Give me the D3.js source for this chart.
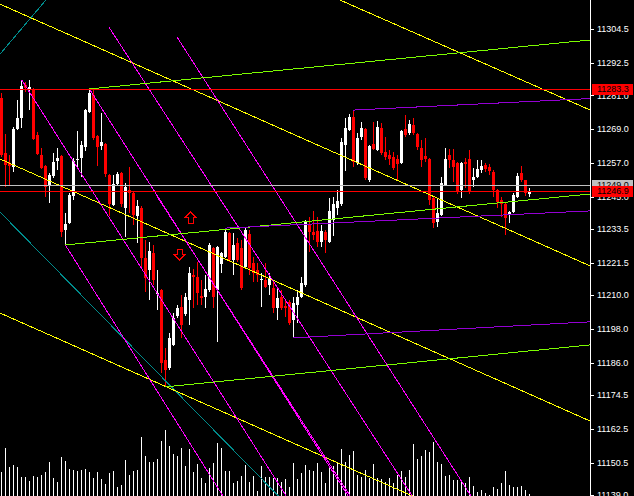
<!DOCTYPE html>
<html>
<head>
<meta charset="utf-8">
<style>
  html, body { margin: 0; padding: 0; background: #000; }
  svg { display: block; }
  .price-axis text { font-family: "Liberation Sans", Arial, sans-serif; font-size: 9px; fill: #fff; }
  .price-axis line { stroke: #fff; }
  .level-label { font-family: "Liberation Sans", Arial, sans-serif; font-size: 9px; fill: #000; }
</style>
</head>
<body>
<div id="chart"></div>
<script src="https://d3js.org/d3.v7.min.js"></script>
<script>
  // OHLC per bar (bar 0 = leftmost)
  const opens = [
    11280.0, 11260.5, 11256.9, 11255.5, 11269.0, 11272.9, 11284.6, 11282.8, 11282.8, 11266.9,
    11259.8, 11255.9, 11249.1, 11252.3, 11257.6, 11259.4, 11233.1, 11235.6, 11245.2, 11258.0,
    11258.7, 11262.6, 11275.0, 11281.1, 11266.5, 11262.9, 11263.7, 11252.7, 11242.0, 11249.5,
    11253.4, 11241.0, 11247.3, 11246.3, 11238.1, 11240.9, 11223.2, 11218.9, 11225.0, 11210.4,
    11211.8, 11187.0, 11184.1, 11192.3, 11202.6, 11205.8, 11203.3, 11208.3, 11217.2, 11216.4,
    11209.7, 11209.3, 11211.8, 11226.7, 11211.8, 11221.0, 11223.5, 11232.1, 11222.5, 11228.5,
    11226.7, 11220.0, 11231.7, 11221.4, 11218.9, 11215.4, 11215.4, 11213.6, 11212.5, 11205.4,
    11209.3, 11206.1, 11207.6, 11201.2, 11206.5, 11209.3, 11213.6, 11235.3, 11232.4, 11232.8,
    11228.9, 11232.4, 11228.9, 11236.7, 11240.9, 11242.4, 11263.3, 11268.6, 11273.3, 11256.9,
    11266.2, 11269.0, 11250.9, 11263.7, 11261.5, 11269.3, 11260.8, 11259.8, 11259.0, 11258.3,
    11256.9, 11269.0, 11267.6, 11270.4, 11267.2, 11262.2, 11259.4, 11258.3, 11244.5, 11236.0,
    11238.5, 11249.1, 11259.8, 11258.0, 11256.9, 11247.3, 11257.3, 11258.3, 11250.9, 11251.9,
    11254.4, 11256.2, 11255.5, 11253.7, 11247.3, 11243.8, 11242.4, 11238.8, 11239.5, 11244.8,
    11253.4, 11250.9, 11245.9
  ];
  const highs = [
    11281.8, 11267.2, 11259.8, 11269.7, 11279.3, 11286.4, 11285.7, 11286.4, 11283.6, 11267.9,
    11262.2, 11256.2, 11253.4, 11260.5, 11262.2, 11259.8, 11239.2, 11246.3, 11258.7, 11268.3,
    11264.7, 11276.1, 11283.2, 11282.8, 11266.9, 11274.7, 11264.0, 11253.0, 11252.7, 11253.7,
    11253.7, 11249.8, 11255.5, 11246.6, 11243.8, 11241.7, 11229.6, 11228.9, 11227.8, 11218.9,
    11212.2, 11191.2, 11196.6, 11203.7, 11206.5, 11210.0, 11210.8, 11220.0, 11219.3, 11221.8,
    11215.4, 11217.1, 11228.5, 11227.0, 11227.5, 11225.3, 11233.8, 11232.4, 11232.1, 11230.3,
    11229.6, 11233.8, 11233.1, 11223.5, 11221.4, 11217.9, 11221.4, 11217.9, 11215.4, 11212.9,
    11211.8, 11208.3, 11208.3, 11209.3, 11211.8, 11216.4, 11236.7, 11237.7, 11239.9, 11237.7,
    11234.9, 11233.1, 11244.5, 11244.8, 11247.3, 11265.8, 11272.9, 11274.3, 11275.7, 11267.6,
    11271.5, 11269.3, 11263.3, 11271.5, 11271.8, 11271.1, 11266.2, 11261.5, 11260.8, 11259.8,
    11268.6, 11274.0, 11272.2, 11272.9, 11267.6, 11265.1, 11265.8, 11258.7, 11244.8, 11244.5,
    11251.9, 11262.2, 11261.9, 11261.9, 11257.3, 11257.3, 11258.7, 11261.5, 11255.1, 11258.0,
    11258.0, 11256.9, 11256.6, 11254.4, 11247.7, 11244.8, 11243.1, 11239.9, 11246.3, 11253.4,
    11255.9, 11250.9, 11248.0
  ];
  const lows = [
    11259.0, 11248.4, 11248.8, 11253.7, 11268.6, 11269.3, 11282.1, 11275.7, 11265.1, 11259.8,
    11254.8, 11244.8, 11242.7, 11251.6, 11254.4, 11230.6, 11227.8, 11235.3, 11243.8, 11255.1,
    11251.9, 11261.2, 11274.7, 11265.1, 11255.9, 11261.5, 11251.9, 11238.1, 11241.7, 11248.8,
    11241.3, 11230.6, 11239.2, 11234.9, 11228.5, 11220.0, 11211.1, 11208.3, 11213.6, 11204.7,
    11182.3, 11177.4, 11183.4, 11191.9, 11201.9, 11194.8, 11202.6, 11199.4, 11205.4, 11206.5,
    11206.5, 11205.4, 11211.1, 11205.4, 11193.4, 11217.9, 11223.2, 11221.8, 11217.1, 11221.8,
    11211.8, 11219.6, 11217.1, 11214.7, 11214.7, 11205.8, 11212.5, 11210.0, 11203.7, 11201.2,
    11204.7, 11202.2, 11199.4, 11194.8, 11200.1, 11209.0, 11212.9, 11225.3, 11229.6, 11227.1,
    11227.1, 11225.0, 11228.5, 11231.0, 11238.5, 11241.7, 11254.1, 11268.3, 11255.5, 11256.2,
    11265.1, 11250.9, 11250.2, 11261.5, 11261.2, 11259.8, 11258.0, 11256.2, 11254.4, 11250.9,
    11256.6, 11266.2, 11266.9, 11266.9, 11261.5, 11255.5, 11257.3, 11242.0, 11233.8, 11234.2,
    11238.1, 11248.8, 11255.1, 11250.2, 11245.9, 11244.5, 11248.0, 11245.9, 11248.4, 11251.6,
    11253.4, 11253.7, 11252.7, 11244.8, 11240.9, 11237.7, 11231.4, 11235.6, 11239.2, 11244.5,
    11250.2, 11245.2, 11244.8
  ];
  const closes = [
    11259.8, 11256.2, 11255.9, 11269.0, 11272.9, 11284.3, 11283.6, 11283.9, 11265.4, 11260.1,
    11255.1, 11248.4, 11252.7, 11257.3, 11258.7, 11232.4, 11235.3, 11245.6, 11257.6, 11258.3,
    11263.3, 11275.7, 11281.8, 11265.8, 11262.6, 11264.4, 11253.0, 11242.4, 11249.5, 11253.0,
    11242.4, 11248.4, 11246.3, 11238.5, 11241.7, 11223.2, 11216.1, 11225.7, 11215.4, 11210.8,
    11185.9, 11183.4, 11194.8, 11201.9, 11205.4, 11199.4, 11209.3, 11217.9, 11216.4, 11210.8,
    11209.0, 11212.2, 11227.8, 11209.3, 11227.1, 11225.0, 11232.4, 11222.5, 11227.8, 11222.5,
    11212.5, 11233.1, 11219.6, 11217.9, 11217.1, 11215.7, 11212.9, 11216.1, 11205.4, 11209.0,
    11205.4, 11205.4, 11200.1, 11207.2, 11209.3, 11214.3, 11236.0, 11232.4, 11231.4, 11228.9,
    11232.8, 11229.6, 11239.9, 11242.4, 11243.4, 11264.4, 11269.3, 11273.3, 11257.3, 11265.8,
    11269.3, 11251.6, 11263.0, 11261.9, 11269.7, 11260.5, 11259.0, 11258.3, 11255.1, 11256.6,
    11268.3, 11266.9, 11270.8, 11267.6, 11262.6, 11258.0, 11258.3, 11243.8, 11235.6, 11239.2,
    11249.8, 11258.3, 11258.0, 11255.5, 11246.6, 11256.9, 11256.6, 11246.6, 11251.9, 11254.8,
    11255.9, 11254.8, 11254.1, 11247.3, 11243.1, 11242.4, 11237.4, 11239.5, 11245.6, 11252.3,
    11250.9, 11246.3, 11246.9
  ];
  const volumes = [
    243, 480, 290, 310, 290, 190, 190, 150, 200, 190,
    210, 240, 340, 180, 140, 390, 350, 270, 260, 250,
    260, 270, 240, 180, 240, 170, 120, 230, 250, 90,
    110, 360, 210, 250, 260, 590, 400, 340, 340, 370,
    550, 660, 500, 420, 400, 480, 300, 470, 240, 320,
    180, 130, 280, 330, 530, 480, 250, 250, 130, 150,
    200, 310, 140, 200, 50, 300, 190, 190, 177, 177,
    143, 170, 93, 333, 170, 233, 310, 260, 250, 333,
    243, 133, 293, 300, 333, 470, 340, 410, 450, 210,
    193, 260, 177, 317, 177, 170, 143, 177, 133, 210,
    250, 193, 260, 520, 370, 403, 460, 440, 540, 340,
    317, 200, 210, 160, 160, 143, 133, 193, 103, 37,
    60, 33, 10, 93, 70, 133, 250, 110, 93, 87,
    103, 60, 20
  ];

  const tickValues = [11304.5, 11292.5, 11281.0, 11269.0, 11257.0, 11245.0, 11233.5,
    11221.5, 11210.0, 11198.0, 11186.0, 11174.5, 11162.5, 11150.5, 11139.0];

  // trend lines as [bar1, price1, bar2, price2], drawn as rays from point 1
  const yellowLines = [
    [-2, 11314.4, 140, 11224.9],
    [-2, 11259.4, 140, 11169.8],
    [-2, 11204.7, 100, 11140.4],
    [80, 11317.7, 145, 11277.1]
  ];
  const magentaLines = [
    [5.1, 11286.4, 71.2, 11138.7],
    [22.2, 11282.8, 86.7, 11138.7],
    [38.7, 11245.6, 87.2, 11138.7],
    [26.9, 11305.2, 102.7, 11138.7],
    [43.9, 11301.7, 117.4, 11138.7],
    [16.0, 11227.8, 55.4, 11138.7]
  ];
  const greenLines = [
    [22.0, 11283.2, 147.2, 11300.6],
    [16.0, 11227.8, 147.2, 11245.9],
    [40.9, 11177.4, 147.2, 11192.3]
  ];
  const purpleLines = [
    [88, 11275.7, 147.2, 11279.8],
    [56, 11233.8, 147.2, 11239.9],
    [73, 11194.8, 147.2, 11200.5]
  ];
  const tealLines = [
    [-2, 11292.8, 12, 11316.2],
    [-2, 11241.9, 70, 11137.6]
  ];

  const levelPrices = [11283.3, 11249.0, 11246.9];
  const levelColors = ['#ff0000', '#c0c0c0', '#ff0000'];

  // arrow objects: [bar, price, direction]
  const arrowMarks = [[47.05, 11237.6, 'up'], [44.55, 11224.6, 'down']];

  const width = 634;
  const height = 496;
  const plotRight = 590;

  const svg = d3.select('#chart')
    .append('svg')
    .attr('width', width)
    .attr('height', height)
    .attr('shape-rendering', 'crispEdges');

  svg.append('rect').attr('width', width).attr('height', height).attr('fill', '#000');

  svg.append('clipPath').attr('id', 'plot-clip')
    .append('rect').attr('x', 0).attr('y', 0).attr('width', plotRight).attr('height', height);

  const xScale = d3.scaleLinear().domain([0, 132]).range([1.3, 529.3]);
  const yScale = d3.scaleLinear().domain([11139.0, 11304.5]).range([495, 29]);
  const volScale = d3.scaleLinear().domain([0, 1000]).range([496, 396]);

  const plot = svg.append('g').attr('clip-path', 'url(#plot-clip)');

  // volumes
  plot.append('g').selectAll('rect')
    .data(volumes)
    .join('rect')
    .attr('x', (d, i) => Math.round(xScale(i)))
    .attr('y', d => volScale(d))
    .attr('width', 1)
    .attr('height', d => volScale(0) - volScale(d))
    .attr('fill', '#fff');

  // candles
  const bars = d3.range(opens.length);
  const candleColor = i => closes[i] >= opens[i] ? '#ffffff' : '#ff0000';
  const candles = plot.append('g');

  candles.selectAll('.wick')
    .data(bars)
    .join('rect')
    .attr('class', 'wick')
    .attr('x', i => Math.round(xScale(i)))
    .attr('y', i => yScale(highs[i]))
    .attr('width', 1)
    .attr('height', i => Math.max(1, yScale(lows[i]) - yScale(highs[i])))
    .attr('fill', candleColor);

  candles.selectAll('.body')
    .data(bars)
    .join('rect')
    .attr('class', 'body')
    .attr('x', i => Math.round(xScale(i)) - 1)
    .attr('y', i => yScale(Math.max(opens[i], closes[i])))
    .attr('width', 3)
    .attr('height', i => Math.max(1, Math.abs(yScale(opens[i]) - yScale(closes[i]))))
    .attr('fill', candleColor);

  // trend lines
  function drawRays(lines, color, width) {
    plot.append('g').selectAll('line')
      .data(lines)
      .join('line')
      .attr('x1', d => xScale(d[0]))
      .attr('y1', d => yScale(d[1]))
      .attr('x2', d => xScale(d[0]) + (xScale(d[2]) - xScale(d[0])) * 10)
      .attr('y2', d => yScale(d[1]) + (yScale(d[3]) - yScale(d[1])) * 10)
      .attr('stroke', color)
      .attr('stroke-width', width);
  }
  drawRays(tealLines, '#008b8b', 1);
  drawRays(yellowLines, '#ffff00', 1);
  drawRays(magentaLines, '#ff00ff', 1);
  drawRays(greenLines, '#7cfc00', 1);
  drawRays(purpleLines, '#9400d3', 1);

  // horizontal price levels
  plot.append('g').selectAll('line')
    .data(levelPrices)
    .join('line')
    .attr('x1', 0)
    .attr('x2', plotRight)
    .attr('y1', d => Math.round(yScale(d)) + 0.5)
    .attr('y2', d => Math.round(yScale(d)) + 0.5)
    .attr('stroke', (d, i) => levelColors[i])
    .attr('stroke-width', 1);

  // arrows
  const upArrow = 'M0,-5.5 L5.5,0 L2.5,0 L2.5,5.5 L-2.5,5.5 L-2.5,0 L-5.5,0 Z';
  const downArrow = 'M0,5.5 L5.5,0 L2.5,0 L2.5,-5.5 L-2.5,-5.5 L-2.5,0 L-5.5,0 Z';
  plot.append('g').selectAll('path')
    .data(arrowMarks)
    .join('path')
    .attr('transform', d => `translate(${Math.round(xScale(d[0])) + 0.5}, ${Math.round(yScale(d[1])) + 0.5})`)
    .attr('d', d => d[2] === 'up' ? upArrow : downArrow)
    .attr('fill', 'none')
    .attr('stroke', '#ff0000')
    .attr('stroke-width', 1);

  // price axis on the right
  const yAxis = d3.axisRight(yScale)
    .tickValues(tickValues)
    .tickSize(4)
    .tickPadding(3)
    .tickFormat(d3.format('.1f'));

  const axisG = svg.append('g')
    .attr('class', 'price-axis')
    .attr('transform', `translate(${plotRight}, 0)`)
    .call(yAxis);
  axisG.select('.domain').remove();

  svg.append('line')
    .attr('x1', plotRight + 0.5)
    .attr('x2', plotRight + 0.5)
    .attr('y1', 0)
    .attr('y2', height)
    .attr('stroke', '#fff');

  // price level labels on the axis
  const labels = svg.append('g').selectAll('g')
    .data(levelPrices)
    .join('g')
    .attr('transform', d => `translate(${plotRight + 2}, ${Math.round(yScale(d))})`);

  labels.append('rect')
    .attr('x', 0)
    .attr('y', -5)
    .attr('width', 41)
    .attr('height', 11)
    .attr('fill', (d, i) => levelColors[i]);

  labels.append('text')
    .attr('class', 'level-label')
    .attr('x', 5)
    .attr('dy', '0.34em')
    .text(d => d3.format('.1f')(d));
</script>
</body>
</html>
